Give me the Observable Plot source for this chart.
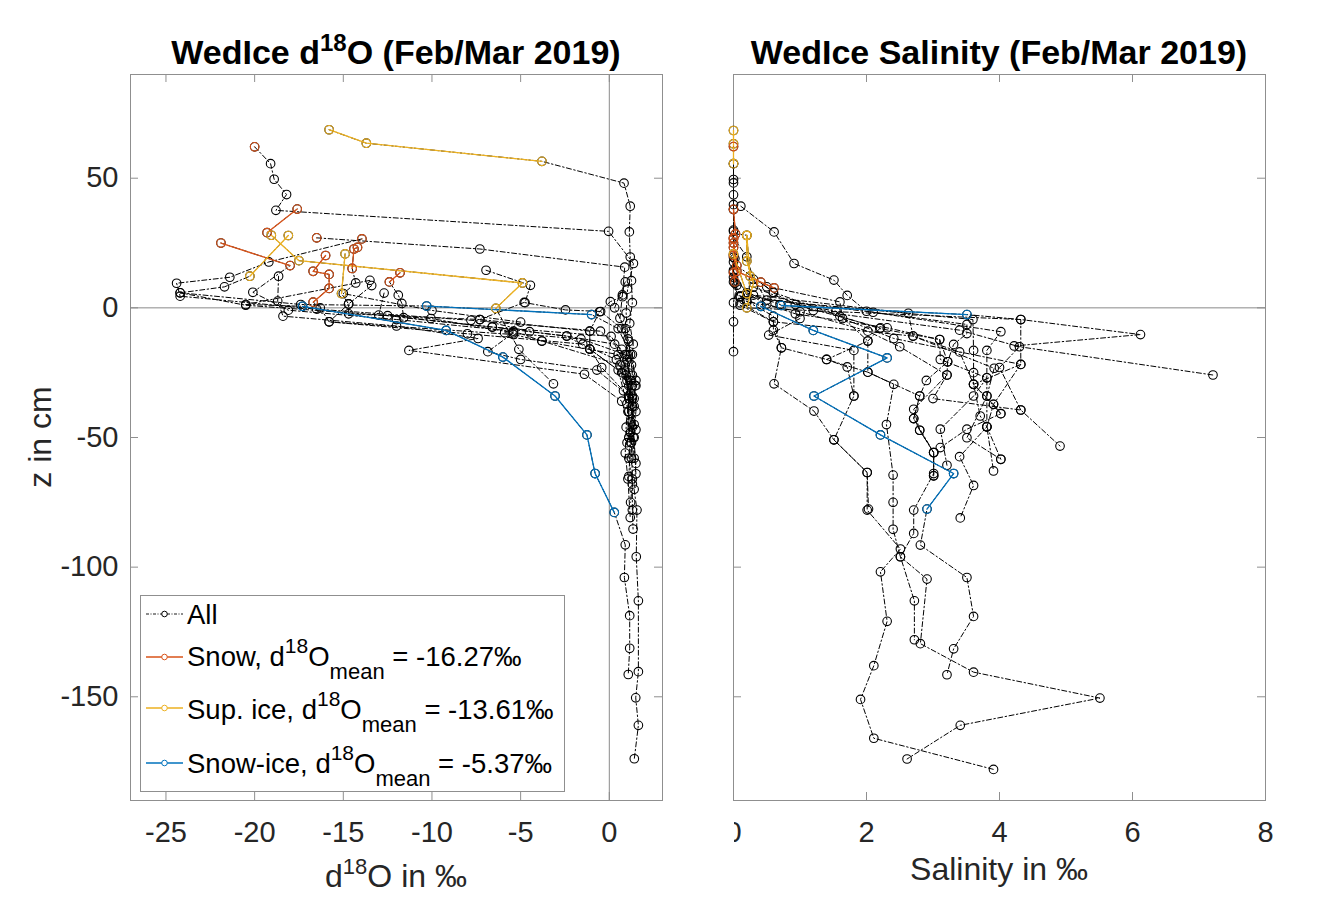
<!DOCTYPE html>
<html><head><meta charset="utf-8">
<script src="https://cdn.jsdelivr.net/npm/d3@7"></script>
<script src="https://cdn.jsdelivr.net/npm/@observablehq/plot@0.6"></script>
<style>
body{margin:0;background:#fff;}
#wrap{position:relative;width:1318px;height:901px;overflow:hidden;background:#fff;font-family:"Liberation Sans",Arial,Helvetica,sans-serif;}
#wrap svg{position:absolute;top:0;}
</style></head><body><div id="wrap"></div>
<script>
// ---- tick values ----
const yTicks = [-150, -100, -50, 0, 50];
const xTicksD18O = [-25, -20, -15, -10, -5, 0];
const xTicksSal = [0, 2, 4, 6, 8];
// class codes: S = snow, U = superimposed ice, I = snow-ice, none = all
const classNames = ["S", "U", "I"];
const classColors = ["#D95319", "#EDB120", "#0072BD"];

// ---- d18O profiles: [z (cm), d18O (permil), class] ----
const d18O_01 = [[68.7,-15.8,"U"],[63.5,-13.7,"U"],[56.5,-3.8,"U"],[48.1,0.83],[39.2,1.18],[29.3,1.13],[19.6,1.18],[10.5,1.25],[2,1.3],[-6,1.15],[-14,1.35],[-22,1.25],[-30,1.45],[-40,1.5],[-50,1.35],[-60,1.5],[-70,1.4],[-78,1.56],[-96,1.52],[-113,1.64],[-140.3,1.64],[-150.4,1.49],[-161,1.64],[-173.9,1.41]];
const d18O_02 = [[62.1,-20.0,"S"],[55.6,-19.1],[49.6,-18.9],[43.7,-18.2],[37.6,-18.8],[29.5,-0.04],[17.1,1.36],[7.2,1.03],[-2,0.95],[-12,1.05],[-24,0.85],[-35,1.1],[-46,0.95],[-56,0.9],[-66,1.05],[-80.9,1.18]];
const d18O_03 = [[38.1,-17.6,"S"],[29,-19.3,"S"],[28,-19.06,"U"],[18.2,-17.5,"U"],[9.6,-4.9,"U"],[-0.2,-6.4,"U"],[-16,-5.1],[-29.3,-3.15]];
const d18O_04 = [[25,-21.9,"S"],[16.3,-18.0,"S"],[6.0,-20.1],[-0.9,-18.1],[-4.5,-12],[-9,-5.4],[-12.8,-3.8],[-18,0.5],[-26,0.95],[-38,1.3],[-52,1.25],[-66,1.3],[-78,1.3],[-85.3,1.34]];
const d18O_05 = [[27.9,-18.1,"U"],[12.2,-20.27,"U"],[8.1,-21.7],[5.8,-24.2],[1.0,-20.5],[-3,-12.5],[-7.4,-6.6],[-11,0.1],[-20,1.0],[-33,1.2],[-45,1.4],[-58,1.25]];
const d18O_06 = [[27,-16.5,"S"],[22.7,-7.3],[15.7,0.87],[5,0.74],[-4,0.6],[-13,1.1],[-26,1.3],[-40,1.05],[-52,1.2],[-65,1.1]];
const d18O_07 = [[26.6,-13.95,"S"],[17.7,-19.2],[11.8,-21.4],[9.5,-24.4],[4.5,-24.2],[-0.5,-16.5],[-4.8,-7.8],[-9,-0.5],[-16,0.7],[-28,1.0],[-40,1.1]];
const d18O_08 = [[20.2,-16.0,"S"],[14.1,-16.7,"S"],[12.9,-15.8,"S"],[7.5,-15.8,"S"],[2.2,-16.7,"S"],[0,-16.3],[-5.4,-15.8],[-10,-8],[-14,-1.5],[-20,0.4],[-30,1.1],[-46,1.3],[-58,1.4]];
const d18O_09 = [[20.8,-14.9,"U"],[5.5,-15.1,"U"],[1.5,-14.7],[-2.3,-14.7],[-4.5,-7.3],[-9,-1.1],[-15.9,-1.1],[-23,-0.43],[-32,0.8],[-44,1.2],[-52,1.0]];
const d18O_10 = [[23.3,-14.2,"S"],[22.7,-14.4,"S"],[15.2,-14.5,"S"],[9.6,-14.3],[5.5,-15.0],[-1,-10],[-5.5,-5],[-9.6,-5.9],[-12,-1.6],[-18,0.9],[-30,1.3]];
const d18O_11 = [[13.5,-11.8,"S"],[10,-12.4,"S"],[4.9,-11.9],[1.7,-11.7],[-3.8,-11.6],[-7.4,-6.6],[-10.9,-2.4],[-14,0.3],[-22,0.9],[-34,1.3],[-47,1.5]];
const d18O_12 = [[14.5,-6.95],[8.7,-4.45],[2,-4.75],[-0.8,-2.47],[-1.4,-0.49],[-8,0.7],[-18,1.3],[-30,1.5]];
const d18O_13 = [[5.8,-24.2],[1.3,-17.4],[0.7,-10.3,"I"],[-2.6,-1.0,"I"],[-8,0.5],[-18,1.2],[-28,1.5],[-38,1.3]];
const d18O_14 = [[10.6,-13.5],[1.3,-20.5],[0.6,-17.3,"I"],[-8.7,-9.2,"I"],[-19,-6.0,"I"],[-34,-3.06,"I"],[-49,-1.26,"I"],[-63.9,-0.8,"I"],[-78.9,0.28,"I"],[-91.4,0.9],[-104,0.85],[-118.7,1.15],[-131.3,1.15],[-141.4,1.07]];
const d18O_15 = [[12.2,-18.65],[2.6,-18.7],[-3.2,-18.4],[-7,-12],[-11.8,-7.4],[-16.4,-11.3],[-25.6,-1.4],[-36,0.7],[-48,1.2]];
const d18O_16 = [[5.7,-12.7],[-2.8,-13.0],[-4.1,-10.06],[-9.6,-5.4],[-16.9,-6.85],[-19.9,-5.0],[-24,-0.7],[-34,1.1],[-50,1.1]];
const d18O_17 = [[4.3,0.74],[2.4,0.06],[-1.5,-0.55],[-9,-1.1],[-15.9,-1.1],[-24,0.5],[-37,1.0]];
const d18O_18 = [[8.6,-13.4],[1.5,-14.7],[-5.4,-15.8],[-10.3,-5.4],[-12.8,-3.8],[-22,0.6],[-35,1.3],[-50,1.4],[-64,1.5]];
const d18O_19 = [[2.1,-4.8],[-4.5,-7.3],[-9.2,-4.5],[-10.9,-2.4],[-15.9,-1.1],[-25,0.7],[-35,1.4]];
const d18O_20 = [[10,0.9],[0,0.3],[-8,0.9],[-18,1.0],[-28,1.2],[-38,1.4],[-48,1.2],[-58,1.1],[-68,1.3],[-75,1.2]];

// ---- salinity profiles: [z (cm), salinity (permil), class] ----
const sal_01 = [[68.4,0,"U"],[63.3,0,"U"],[55.6,0,"U"],[49.5,0],[39.8,0],[30,0],[19.5,0],[10,0],[2,0.1],[-5.4,0.6],[-15.4,0.72],[-29.3,0.61],[-39.8,1.21],[-50.9,1.51],[-63.5,2.01],[-78,2.01],[-93,2.51],[-101.8,2.21],[-120.9,2.31],[-138,2.11],[-151,1.91],[-166,2.11],[-178,3.91]];
const sal_02 = [[62.2,0,"S"],[55.6,0],[48.2,0],[43.6,0],[37.9,0],[29.5,0],[19,0.02],[14,0],[5,0.2],[-1.3,1.54],[-12.8,2.02],[-24.8,2.02],[-29.5,2.41],[-45,2.3],[-64.5,2.4],[-75,2.4],[-85.4,2.4],[-96,2.51],[-104.6,2.91],[-129.5,2.81],[-140.5,3.61],[-150.5,5.51],[-161,3.41],[-174,2.61]];
const sal_03 = [[38,0,"S"],[28.5,0.03,"S"],[28,0.2,"U"],[18,0.2,"U"],[9.6,0.3,"U"],[0,0.2,"U"],[-4.5,4.32],[-10.3,6.12],[-14.7,4.22],[-25.9,7.21]];
const sal_04 = [[39.2,0.11],[29.3,0.61],[17.1,0.91],[10.7,1.51],[4.8,1.71],[-1.3,2.0],[-9.2,4.02],[-16.4,3.81],[-27,3.81],[-34,3.81],[-45.9,3.81],[-58.4,4.02]];
const sal_05 = [[25,0,"S"],[16.3,0.05,"S"],[6,0.6],[-3.2,1.6],[-8,2.2],[-12.2,3.1],[-20.8,3.22],[-25.9,3.21],[-39.1,2.71],[-47.2,2.8],[-55.8,3.01],[-64.8,3.01]];
const sal_06 = [[27.9,0.2,"U"],[12.2,0.25,"U"],[8.1,0.5],[5.8,0.6],[1.3,0.93],[-7.7,2.21],[-12.8,2.02],[-19.9,1.4],[-22.8,1.71],[-34,1.81]];
const sal_07 = [[27,0,"S"],[19.7,0.2],[11,0.3],[3,0.5],[-4.5,3.6],[-16.4,3.61],[-25,3.61],[-29.5,3.61],[-41.7,3.71],[-45.9,3.81],[-62.9,3.91]];
const sal_08 = [[26.6,0,"S"],[17.7,0],[11.8,0],[9.5,0.02],[4.5,0.1],[-1.7,2.1],[-6.4,3.51],[-9.9,3.51],[-14.1,3.31],[-20.8,3.22],[-28,2.9],[-34,2.8],[-42.7,2.71],[-55.8,3.01],[-64.8,3.01]];
const sal_09 = [[23.3,0,"S"],[20.2,0,"S"],[14.1,0.05,"S"],[9.9,0.41,"S"],[7.7,0.61,"S"],[2.3,1.6],[-4.1,1.64],[-11.8,2.41],[-21.8,4.32],[-37.2,3.91],[-40.8,4.02],[-46.8,3.51],[-53.9,3.11]];
const sal_10 = [[20.8,0,"U"],[5.5,0.2,"U"],[1.5,0.5],[-2.3,0.93],[-7.7,2.31],[-12.2,3.1],[-19.9,3.11],[-27,3.81],[-34,3.61],[-46.8,3.11],[-60.7,3.21]];
const sal_11 = [[13.5,0,"S"],[10,0.02,"S"],[4.9,0.3],[-2.1,2.63],[-10.9,2.7],[-23.3,3.92],[-34,3.81],[-50.1,3.51],[-58.4,4.02]];
const sal_12 = [[14.5,0],[8.7,0.05],[2,0],[-5.4,0],[-16.9,0]];
const sal_13 = [[5.8,0.2],[1.3,0.7],[0.9,0.72,"I"],[-2.6,3.51,"I"],[-4.5,4.32],[-21.8,4.32],[-29.5,3.61],[-40.8,4.02]];
const sal_14 = [[4.5,0.1],[0.6,0.41,"I"],[-8.7,1.2,"I"],[-19.3,2.31,"I"],[-34,1.21,"I"],[-49,2.21,"I"],[-63.9,3.31,"I"],[-77.6,2.91,"I"],[-91.5,2.81],[-104,3.51],[-119,3.61],[-131.5,3.31],[-141.5,3.21]];
const sal_15 = [[2.6,0.2],[-3.2,0.6],[-8.6,0.6],[-15.4,0.72],[-19.9,1.4],[-24.8,2.02],[-34,2.8],[-42.7,2.71],[-47.2,2.8],[-55.8,3.01],[-63.9,3.01],[-78,2.71],[-87,2.71],[-96,2.51],[-113,2.72],[-128,2.72]];
const sal_16 = [[1.0,0.1],[-5.4,0.6],[-10.9,2.7],[-17,3.4],[-29.5,3.61],[-37.2,3.91],[-45.9,3.81],[-57.4,3.4],[-68.5,3.61],[-81,3.41]];
const sal_17 = [[-4.1,1.0],[-10.5,0.53],[-16.4,1.81],[-34,1.81],[-50.9,1.51],[-63.5,2.01],[-77.6,2.03]];
const sal_18 = [[4.3,0.1],[2.4,0.2],[-1.5,1.0],[-9,2.02],[-15,2.5],[-25.9,3.21],[-35,3.0],[-39.4,4.32],[-53.3,4.91]];
const sal_19 = [[8,0.3],[-1,1.2],[-8.6,3.4],[-15,4.3],[-23,4.0],[-39.4,4.32]];

const d18OProfiles = [d18O_01,d18O_02,d18O_03,d18O_04,d18O_05,d18O_06,d18O_07,d18O_08,d18O_09,d18O_10,d18O_11,d18O_12,d18O_13,d18O_14,d18O_15,d18O_16,d18O_17,d18O_18,d18O_19,d18O_20];
const salProfiles = [sal_01,sal_02,sal_03,sal_04,sal_05,sal_06,sal_07,sal_08,sal_09,sal_10,sal_11,sal_12,sal_13,sal_14,sal_15,sal_16,sal_17,sal_18,sal_19];

// legend texts
const legendMeans = ["-16.27", "-13.61", "-5.37"];
const legendLabels = ["Snow", "Sup. ice", "Snow-ice"];

const FONT = '"Liberation Sans", Arial, Helvetica, sans-serif';
const H = 901, MT = 74, MB = 101;
const Y_DOMAIN = [-190, 90];

function flatten(profiles) {
  const rows = [];
  profiles.forEach((p, i) => p.forEach(([z, v, c]) => rows.push({core: i, z, v, cls: c || ""})));
  return rows;
}
function coloredSegments(rows) {
  const out = []; let seg = 0, prev = null;
  for (const r of rows) {
    if (!r.cls) { prev = null; continue; }
    if (!prev || prev.core !== r.core || prev.cls !== r.cls) seg++;
    out.push({...r, seg});
    prev = r;
  }
  return out;
}

function makePanel(o) {
  const rows = flatten(o.profiles);
  const segs = coloredSegments(rows);
  const fw = o.width - o.marginLeft - o.marginRight;
  const fh = H - MT - MB;
  const [x0, x1] = o.xDomain;
  const tx = 8 * (x1 - x0) / fw;
  const ty = 8 * (Y_DOMAIN[1] - Y_DOMAIN[0]) / fh;
  const grey = "#8f8f8f";
  const marks = [];
  marks.push(Plot.frame({stroke: grey, strokeWidth: 1}));
  marks.push(Plot.ruleX(o.xTicks, {x: d => d, y1: Y_DOMAIN[0], y2: Y_DOMAIN[0] + ty, stroke: grey}));
  marks.push(Plot.ruleX(o.xTicks, {x: d => d, y1: Y_DOMAIN[1], y2: Y_DOMAIN[1] - ty, stroke: grey}));
  marks.push(Plot.ruleY(yTicks, {y: d => d, x1: x0, x2: x0 + tx, stroke: grey}));
  marks.push(Plot.ruleY(yTicks, {y: d => d, x1: x1, x2: x1 - tx, stroke: grey}));
  if (o.zeroX) marks.push(Plot.ruleX([0], {stroke: "#8a8a8a", strokeWidth: 1}));
  marks.push(Plot.ruleY([0], {stroke: "#8a8a8a", strokeWidth: 1}));
  marks.push(Plot.line(rows, {x: "v", y: "z", z: "core", stroke: "#000", strokeWidth: 1, strokeDasharray: "5,2.5,1.5,2.5"}));
  marks.push(Plot.dot(rows, {x: "v", y: "z", r: 4.3, stroke: "#000", strokeWidth: 1.1, fill: "none"}));
  marks.push(Plot.line(segs, {x: "v", y: "z", z: "seg", stroke: "cls", strokeWidth: 1.3}));
  marks.push(Plot.dot(segs, {x: "v", y: "z", r: 4.3, stroke: "cls", strokeWidth: 1.1, fill: "none"}));
  marks.push(Plot.axisX(o.xTicks, {tickSize: 0, tickPadding: 21, tickFormat: d => String(d), label: null, fontSize: 29, fill: "#262626"}));
  if (o.showY) marks.push(Plot.axisY(yTicks, {tickSize: 0, tickPadding: 12, tickFormat: d => String(d), label: null, fontSize: 29, fill: "#262626"}));
  return Plot.plot({
    width: o.width, height: H,
    marginLeft: o.marginLeft, marginRight: o.marginRight, marginTop: MT, marginBottom: MB,
    x: {domain: o.xDomain, axis: null},
    y: {domain: Y_DOMAIN, axis: null},
    color: {domain: classNames, range: classColors},
    style: {fontFamily: FONT, fontSize: "29px", color: "#262626", background: "transparent", overflow: "visible"},
    marks
  });
}

const wrap = document.getElementById("wrap");

const left = makePanel({profiles: d18OProfiles, xDomain: [-27, 3], xTicks: xTicksD18O, width: 700, marginLeft: 130, marginRight: 38, zeroX: true, showY: true});
left.style.left = "0px";
wrap.appendChild(left);

const right = makePanel({profiles: salProfiles, xDomain: [0, 8], xTicks: xTicksSal, width: 618, marginLeft: 33, marginRight: 53, zeroX: false, showY: false});
right.style.left = "700px";
wrap.appendChild(right);

// hide part of the clipped "0" label as in the reference
d3.select(right).append("rect").attr("x", 0).attr("y", 806).attr("width", 34).attr("height", 50).attr("fill", "#fff");

// ---- titles and axis labels ----
function title(svg, cx, parts) {
  const t = d3.select(svg).append("text").attr("x", cx).attr("y", 64).attr("text-anchor", "middle")
    .attr("font-family", FONT).attr("font-weight", "bold").attr("font-size", 34).attr("fill", "#000");
  parts(t);
}
title(left, 396, t => {
  t.append("tspan").text("WedIce d");
  t.append("tspan").attr("font-size", 24).attr("dy", -13).text("18");
  t.append("tspan").attr("dy", 13).text("O (Feb/Mar 2019)");
});
title(right, 299, t => t.append("tspan").text("WedIce Salinity (Feb/Mar 2019)"));

const xl = d3.select(left).append("text").attr("x", 396).attr("y", 887).attr("text-anchor", "middle")
  .attr("font-family", FONT).attr("font-size", 32).attr("fill", "#262626");
xl.append("tspan").text("d");
xl.append("tspan").attr("font-size", 22).attr("dy", -13).text("18");
xl.append("tspan").attr("dy", 13).text("O in ‰");

d3.select(right).append("text").attr("x", 299).attr("y", 880).attr("text-anchor", "middle")
  .attr("font-family", FONT).attr("font-size", 32).attr("fill", "#262626").text("Salinity in ‰");

d3.select(left).append("text").attr("transform", "translate(51,437) rotate(-90)").attr("text-anchor", "middle")
  .attr("font-family", FONT).attr("font-size", 32).attr("fill", "#262626").text("z in cm");

// ---- legend ----
const lg = d3.select(left).append("g").attr("text-anchor", "start");
lg.append("rect").attr("x", 140.5).attr("y", 595.5).attr("width", 424).attr("height", 196)
  .attr("fill", "#fff").attr("stroke", "#8f8f8f").attr("stroke-width", 1);
const rowsY = [624, 666, 719, 773];
const lineY = [614, 657, 708, 763];
const keyColors = ["#000", ...classColors];
keyColors.forEach((c, i) => {
  lg.append("line").attr("x1", 146).attr("x2", 183).attr("y1", lineY[i]).attr("y2", lineY[i])
    .attr("stroke", c).attr("stroke-width", i === 0 ? 0.9 : 1.3)
    .attr("stroke-dasharray", i === 0 ? "3,1.5,1,1.5" : null);
  lg.append("circle").attr("cx", 164.5).attr("cy", lineY[i]).attr("r", 2.8)
    .attr("fill", "#fff").attr("stroke", c).attr("stroke-width", 1);
});
const lt = (i) => lg.append("text").attr("x", 187).attr("y", rowsY[i]).attr("text-anchor", "start")
  .attr("font-family", FONT).attr("font-size", 27.5).attr("fill", "#000");
lt(0).text("All");
legendLabels.forEach((lab, k) => {
  const t = lt(k + 1);
  t.append("tspan").text(lab + ", d");
  t.append("tspan").attr("font-size", 21).attr("dy", -13).text("18");
  t.append("tspan").attr("dy", 13).text("O");
  t.append("tspan").attr("font-size", 22).attr("dy", 13).text("mean");
  t.append("tspan").attr("dy", -13).text(" = " + legendMeans[k] + "‰");
});
</script></body></html>
